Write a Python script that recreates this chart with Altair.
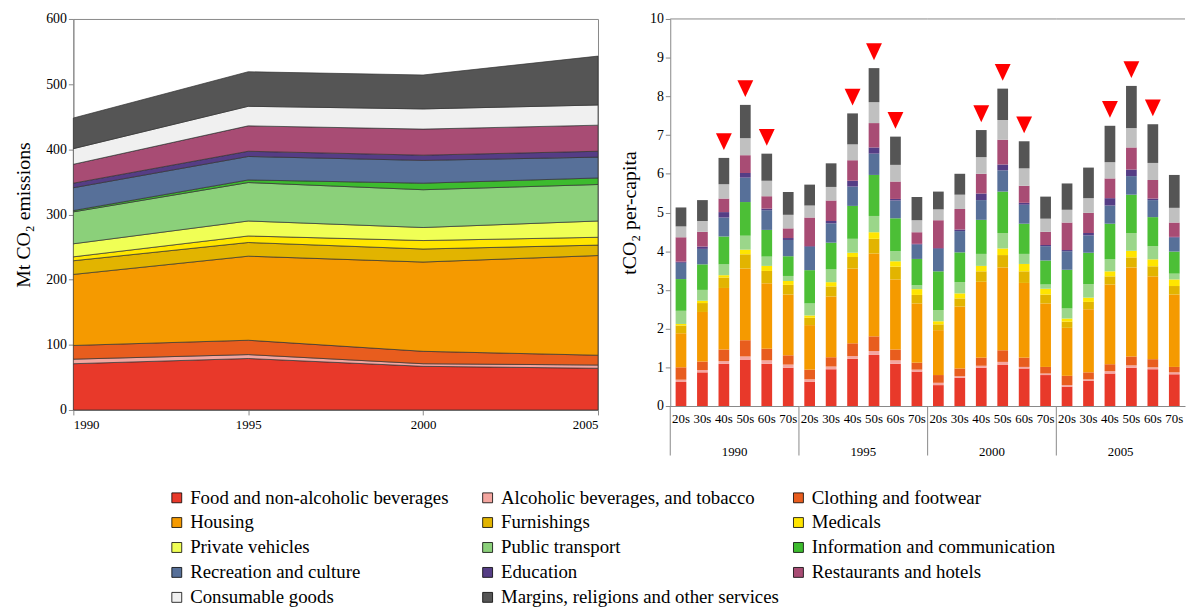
import altair as alt
import pandas as pd
import numpy as np

# ---------------- data ----------------
categories = [
    "Food and non-alcoholic beverages", "Alcoholic beverages, and tobacco", "Clothing and footwear",
    "Housing", "Furnishings", "Medicals",
    "Private vehicles", "Public transport", "Information and communication",
    "Recreation and culture", "Education", "Restaurants and hotels",
    "Consumable goods", "Margins, religions and other services",
]
area_colors = ["#E8392A", "#F4A6A0", "#E85D1E", "#F59A00", "#E2B400", "#FFE500",
               "#F0FF55", "#8BD07A", "#3DBB2E", "#577099", "#553D85", "#A84C74",
               "#F0F0F0", "#555555"]
# the per-capita bars draw three categories in slightly different shades
bar_shade_categories = ["Public transport", "Information and communication", "Consumable goods"]
bar_shade_colors = ["#9BD68A", "#4CBF36", "#C0C0C0"]

years = [1990, 1995, 2000, 2005]
ages = ["20s", "30s", "40s", "50s", "60s", "70s"]

# Left panel: Mt CO2 per category (1990, 1995, 2000, 2005)
food = [71, 79, 67, 64]
alcohol = [7, 6, 4, 5]
clothing = [21, 22, 19, 15]
housing = [109, 129, 137, 153]
furnishings = [21, 21, 20, 16]
medicals = [6, 10, 13, 12]
private_vehicles = [20, 23, 20, 25]
public_transport = [49, 59, 58, 56]
info_comm = [2, 4, 10, 10]
recreation = [35, 36, 35, 32]
education = [7, 8, 8, 9]
restaurants = [29, 39, 40, 40]
consumable = [24, 30, 31, 31]
margins = [47, 53, 52, 75]
area_series = [food, alcohol, clothing, housing, furnishings, medicals, private_vehicles,
               public_transport, info_comm, recreation, education, restaurants, consumable, margins]

# Right panel: cumulative segment tops (tCO2 per capita), per age group
bar_categories = [c for c in categories if c != "Private vehicles"]

tops_1990 = [
    [0.62, 0.68, 1.00, 1.88, 2.08, 2.12, 2.46, 3.28, 3.70, 3.73, 4.36, 4.64, 5.13],
    [0.87, 0.93, 1.15, 2.43, 2.66, 2.72, 3.00, 3.66, 4.06, 4.12, 4.50, 4.78, 5.32],
    [1.09, 1.16, 1.46, 3.05, 3.32, 3.38, 3.66, 4.38, 4.87, 5.01, 5.36, 5.73, 6.41],
    [1.20, 1.28, 1.70, 3.55, 3.92, 4.04, 4.40, 5.27, 5.90, 6.02, 6.48, 6.92, 7.78],
    [1.09, 1.18, 1.48, 3.17, 3.49, 3.62, 3.86, 4.55, 5.06, 5.10, 5.42, 5.82, 6.52],
    [0.99, 1.07, 1.31, 2.88, 3.13, 3.23, 3.36, 3.87, 4.29, 4.34, 4.59, 4.94, 5.53],
]
tops_1995 = [
    [0.63, 0.69, 0.94, 2.09, 2.28, 2.34, 2.65, 3.51, 4.11, 4.13, 4.87, 5.18, 5.72],
    [0.95, 1.02, 1.26, 2.83, 3.09, 3.20, 3.53, 4.22, 4.72, 4.78, 5.31, 5.66, 6.27],
    [1.22, 1.29, 1.62, 3.55, 3.85, 3.96, 4.32, 5.17, 5.67, 5.82, 6.35, 6.76, 7.56],
    [1.32, 1.42, 1.80, 3.94, 4.32, 4.49, 4.91, 5.97, 6.52, 6.68, 7.31, 7.85, 8.73],
    [1.09, 1.18, 1.46, 3.27, 3.60, 3.74, 4.00, 4.85, 5.31, 5.35, 5.80, 6.23, 6.96],
    [0.89, 0.94, 1.12, 2.65, 2.87, 3.02, 3.12, 3.80, 4.17, 4.19, 4.49, 4.80, 5.40],
]
tops_2000 = [
    [0.54, 0.60, 0.80, 1.96, 2.11, 2.19, 2.48, 3.48, 4.06, 4.08, 4.80, 5.08, 5.54],
    [0.73, 0.77, 0.97, 2.57, 2.78, 2.91, 3.20, 3.97, 4.52, 4.56, 5.09, 5.46, 6.00],
    [0.99, 1.04, 1.25, 3.21, 3.48, 3.62, 3.93, 4.81, 5.32, 5.49, 6.00, 6.43, 7.13],
    [1.07, 1.14, 1.44, 3.58, 3.90, 4.07, 4.47, 5.54, 6.09, 6.24, 6.88, 7.39, 8.20],
    [0.97, 1.01, 1.25, 3.18, 3.48, 3.67, 3.93, 4.71, 5.20, 5.25, 5.69, 6.14, 6.84],
    [0.80, 0.84, 1.01, 2.65, 2.88, 3.03, 3.14, 3.76, 4.13, 4.16, 4.50, 4.84, 5.41],
]
tops_2005 = [
    [0.50, 0.54, 0.78, 2.02, 2.18, 2.26, 2.52, 3.52, 4.00, 4.03, 4.74, 5.07, 5.75],
    [0.65, 0.69, 0.87, 2.50, 2.69, 2.80, 3.15, 3.96, 4.41, 4.47, 4.99, 5.37, 6.16],
    [0.84, 0.90, 1.08, 3.14, 3.35, 3.48, 3.79, 4.71, 5.18, 5.37, 5.88, 6.30, 7.24],
    [0.99, 1.05, 1.28, 3.58, 3.84, 4.01, 4.47, 5.46, 5.94, 6.11, 6.68, 7.18, 8.27],
    [0.95, 1.00, 1.21, 3.35, 3.61, 3.79, 4.13, 4.88, 5.32, 5.36, 5.84, 6.28, 7.28],
    [0.82, 0.87, 1.01, 2.88, 3.10, 3.27, 3.42, 3.99, 4.35, 4.37, 4.74, 5.12, 5.97],
]
highlighted_ages = ["40s", "50s", "60s"]

# ---------------- tables ----------------
def bar_key(c):
    return c + " (per capita)" if c in bar_shade_categories else c

color_domain = categories + [bar_key(c) for c in bar_shade_categories]
color_range = area_colors + bar_shade_colors

area_rows = []
for ci, (cat, vals) in enumerate(zip(categories, area_series)):
    for y, v in zip(years, vals):
        area_rows.append(dict(year=y, category=cat, value=v, order=ci))
df_area = pd.DataFrame(area_rows)

tops = {1990: tops_1990, 1995: tops_1995, 2000: tops_2000, 2005: tops_2005}
rows = []
for y in years:
    for a, t in zip(ages, tops[y]):
        seg = np.diff([0.0] + t)
        for ci, (cat, v) in enumerate(zip(bar_categories, seg)):
            rows.append(dict(kind="bar", year=str(y), age=a, category=bar_key(cat),
                             value=float(v), order=ci))
        if a in highlighted_ages:
            rows.append(dict(kind="tri", year=str(y), age=a, category="", value=t[-1], order=0))
    rows.append(dict(kind="sep", year=str(y), age="20s", category="", value=0.0, order=0))
df_bar = pd.DataFrame(rows)

FONT = "Liberation Serif"
GREY = "#888888"

color_scale = alt.Scale(domain=color_domain, range=color_range)
legend = alt.Legend(title=None, orient="none", legendX=95, legendY=474, values=categories,
                    columns=3, direction="horizontal", symbolType="square",
                    symbolSize=100, symbolStrokeColor="black",
                    symbolStrokeWidth=0.8, symbolOpacity=1,
                    labelFont=FONT, labelFontSize=19, labelColor="black",
                    labelLimit=500, rowPadding=5.2, columnPadding=10,
                    gridAlign="all", labelOffset=4)

# ---------------- left: stacked area ----------------
left = alt.Chart(df_area).mark_area(stroke="#333333", strokeWidth=0.7, opacity=1).encode(
    x=alt.X("year:Q", scale=alt.Scale(domain=[1990, 2005], nice=False, zero=False),
            axis=alt.Axis(values=years, format="d", title=None, grid=False, tickSize=5,
                          labelPadding=4, labelFontSize=13)),
    y=alt.Y("value:Q", stack="zero", scale=alt.Scale(domain=[0, 600], nice=False),
            axis=alt.Axis(values=list(range(0, 601, 100)), title="Mt CO₂ emissions", grid=False,
                          tickSize=5, titlePadding=12)),
    color=alt.Color("category:N", scale=color_scale, legend=legend),
    order=alt.Order("order:Q"),
).properties(width=530, height=395, view=alt.ViewBackground(stroke=GREY, strokeWidth=1))

# ---------------- right: faceted stacked bars ----------------
W, H = 130, 391
yaxis_r = alt.Axis(values=list(range(0, 11)), title="tCO₂ per-capita", grid=False,
                   tickSize=5, titlePadding=10, labelOverlap=False)
xenc = alt.X("age:N", sort=ages, scale=alt.Scale(paddingInner=0.5, paddingOuter=0.25),
             axis=alt.Axis(title=None, labelAngle=0, ticks=False, labelPadding=7,
                           labelFontSize=13))
bars = alt.Chart().transform_filter(alt.datum.kind == "bar").mark_bar().encode(
    x=xenc,
    y=alt.Y("value:Q", stack="zero", scale=alt.Scale(domain=[0, 10], nice=False), axis=yaxis_r),
    color=alt.Color("category:N", scale=color_scale, legend=legend),
    order=alt.Order("order:Q"),
)
tri = alt.Chart().transform_filter(alt.datum.kind == "tri").mark_point(
    shape="M-0.8,-2.5L0.8,-2.5L0,-0.8Z", size=400, filled=True, color="#FF0000", opacity=1
).encode(x=xenc, y=alt.Y("value:Q", stack=None, axis=yaxis_r))
sep = alt.Chart().transform_filter(alt.datum.kind == "sep").mark_rule(
    color=GREY, strokeWidth=1
).encode(x=alt.value(0), y=alt.value(H), y2=alt.value(H + 50))
topline = alt.Chart().transform_filter(alt.datum.kind == "sep").mark_rule(
    color=GREY, strokeWidth=1
).encode(x=alt.value(0), x2=alt.value(W), y=alt.value(0))

right = alt.layer(bars, tri, sep, topline, data=df_bar).properties(width=W, height=H).facet(
    column=alt.Column("year:N", sort=[str(y) for y in years],
                      header=alt.Header(title=None, labelOrient="bottom", labelFont=FONT,
                                        labelFontSize=13, labelColor="black", labelPadding=20)),
    spacing=0,
    bounds="flush",
)

chart = alt.hconcat(left, right, spacing=20).resolve_scale(color="shared").properties(
    padding={"left": 5, "top": 0, "right": 0, "bottom": 0}
).configure_view(
    stroke=None
).configure_axis(
    labelFont=FONT, titleFont=FONT, labelFontSize=14, titleFontSize=20, labelColor="black",
    titleColor="black", titleFontWeight="normal", domainColor=GREY, tickColor=GREY
)

chart.save("out.html", embed_options={"renderer": "svg", "actions": False})
